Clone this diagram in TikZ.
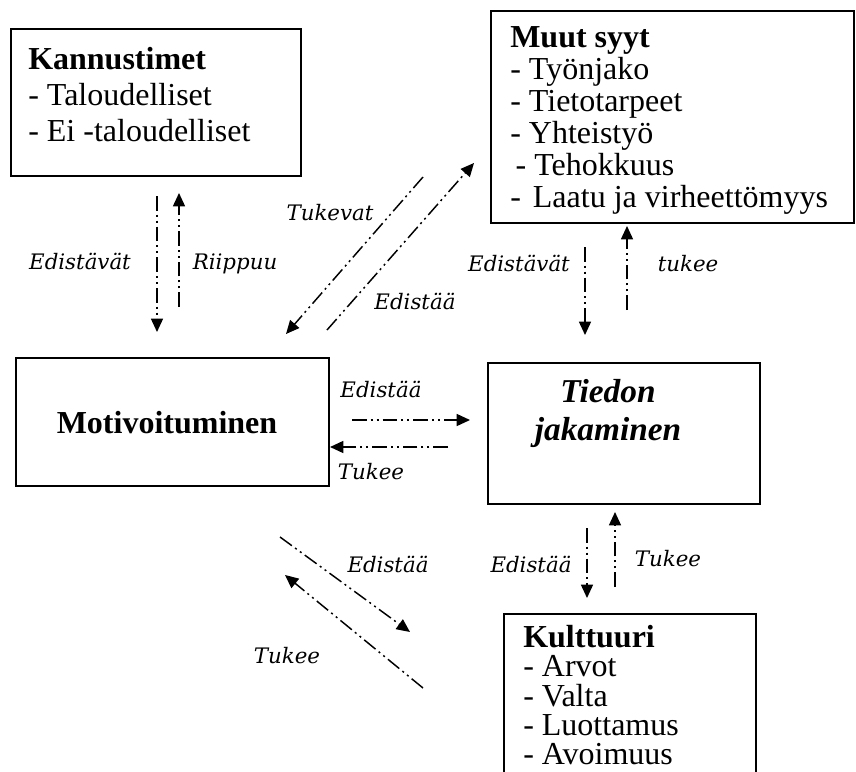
\documentclass[tikz,border=0pt]{standalone}
\usepackage{fontspec}
\setmainfont{Liberation Serif}
\newfontfamily\lblfont{DejaVu Serif}[UprightFont={DejaVu Serif Italic}]
\usetikzlibrary{arrows.meta}
\begin{document}
\begin{tikzpicture}[x=0.75pt,y=-0.75pt,
  box/.style={draw, line width=1.2pt, inner sep=0pt, anchor=north west},
  boxtext/.style={anchor=north west, inner sep=0pt, align=left,
    font=\fontsize{24}{24}\selectfont},
  lbl/.style={inner sep=0pt, font=\lblfont\fontsize{16}{18}\selectfont},
  flow/.style={line width=1.1pt,
    dash pattern=on 11pt off 3pt on 1.5pt off 3pt on 1.5pt off 3pt,
    -{Triangle[length=10pt,width=9pt]}}]
  \useasboundingbox (0,0) rectangle (856,771);
  \clip (0,0) rectangle (856,771);

  % boxes
  \node[box, minimum width=217.5pt, minimum height=110.25pt] (kan) at (10,28) {};
  \node[box, minimum width=272.25pt, minimum height=159pt] (muut) at (490,10) {};
  \node[box, minimum width=234.75pt, minimum height=96pt] (mot) at (15,357) {};
  \node[box, minimum width=204pt, minimum height=105.75pt] (tie) at (487,362) {};
  \node[box, minimum width=189pt, minimum height=150pt] (kul) at (503,613) {};

  % box contents
  \node[boxtext, font=\fontsize{24}{27}\selectfont] (kantxt) at (28,47)
    {\textbf{Kannustimet}\\- Taloudelliset\\- Ei -taloudelliset};
  \node[boxtext] (muuttxt) at (510,26)
    {\textbf{Muut syyt}\\- Työnjako\\- Tietotarpeet\\- Yhteistyö\\
     \hspace{4pt}- Tehokkuus\\-\hspace{9pt}Laatu ja virheettömyys};
  \node[boxtext, font=\fontsize{24}{22}\selectfont] (kultxt) at (523,625)
    {\textbf{Kulttuuri}\\- Arvot\\- Valta\\- Luottamus\\- Avoimuus};
  \node[anchor=base, inner sep=0pt, font=\bfseries\fontsize{24}{24}\selectfont] (mottxt)
    at (167,433) {Motivoituminen};
  \node[anchor=north, inner sep=0pt, align=center,
    font=\bfseries\itshape\fontsize{25}{28.5}\selectfont] (tietxt) at (608,379)
    {Tiedon\\jakaminen};

  % connector ends
  \coordinate (a1) at (157,196);  \coordinate (b1) at (157,332);
  \coordinate (a2) at (179,307);  \coordinate (b2) at (179,193);
  \coordinate (a3) at (423,177);  \coordinate (b3) at (286,334);
  \coordinate (a4) at (327,330);  \coordinate (b4) at (474,163);
  \coordinate (a5) at (585,247);  \coordinate (b5) at (585,335);
  \coordinate (a6) at (627,310);  \coordinate (b6) at (627,226);
  \coordinate (a7) at (352,420);  \coordinate (b7) at (470,420);
  \coordinate (a8) at (448,447);  \coordinate (b8) at (330,447);
  \coordinate (a9) at (587,528);  \coordinate (b9) at (587,598);
  \coordinate (a10) at (615,587); \coordinate (b10) at (615,512);
  \coordinate (a11) at (280,537); \coordinate (b11) at (410,632);
  \coordinate (a12) at (423,688); \coordinate (b12) at (285,575);

  \foreach \i in {1,...,12} {\draw[flow] (a\i) -- (b\i);}

  % connector labels
  \node[lbl] (l1) at (80,261) {Edistävät};
  \node[lbl] (l2) at (235,264) {Riippuu};
  \node[lbl] (l3) at (330,213) {Tukevat};
  \node[lbl] (l4) at (415,301) {Edistää};
  \node[lbl] (l5) at (519,263) {Edistävät};
  \node[lbl] (l6) at (688,264) {tukee};
  \node[lbl] (l7) at (381,389) {Edistää};
  \node[lbl] (l8) at (371,472) {Tukee};
  \node[lbl] (l9) at (531,564) {Edistää};
  \node[lbl] (l10) at (668,559) {Tukee};
  \node[lbl] (l11) at (388,564) {Edistää};
  \node[lbl] (l12) at (287,656) {Tukee};
\end{tikzpicture}
\end{document}
